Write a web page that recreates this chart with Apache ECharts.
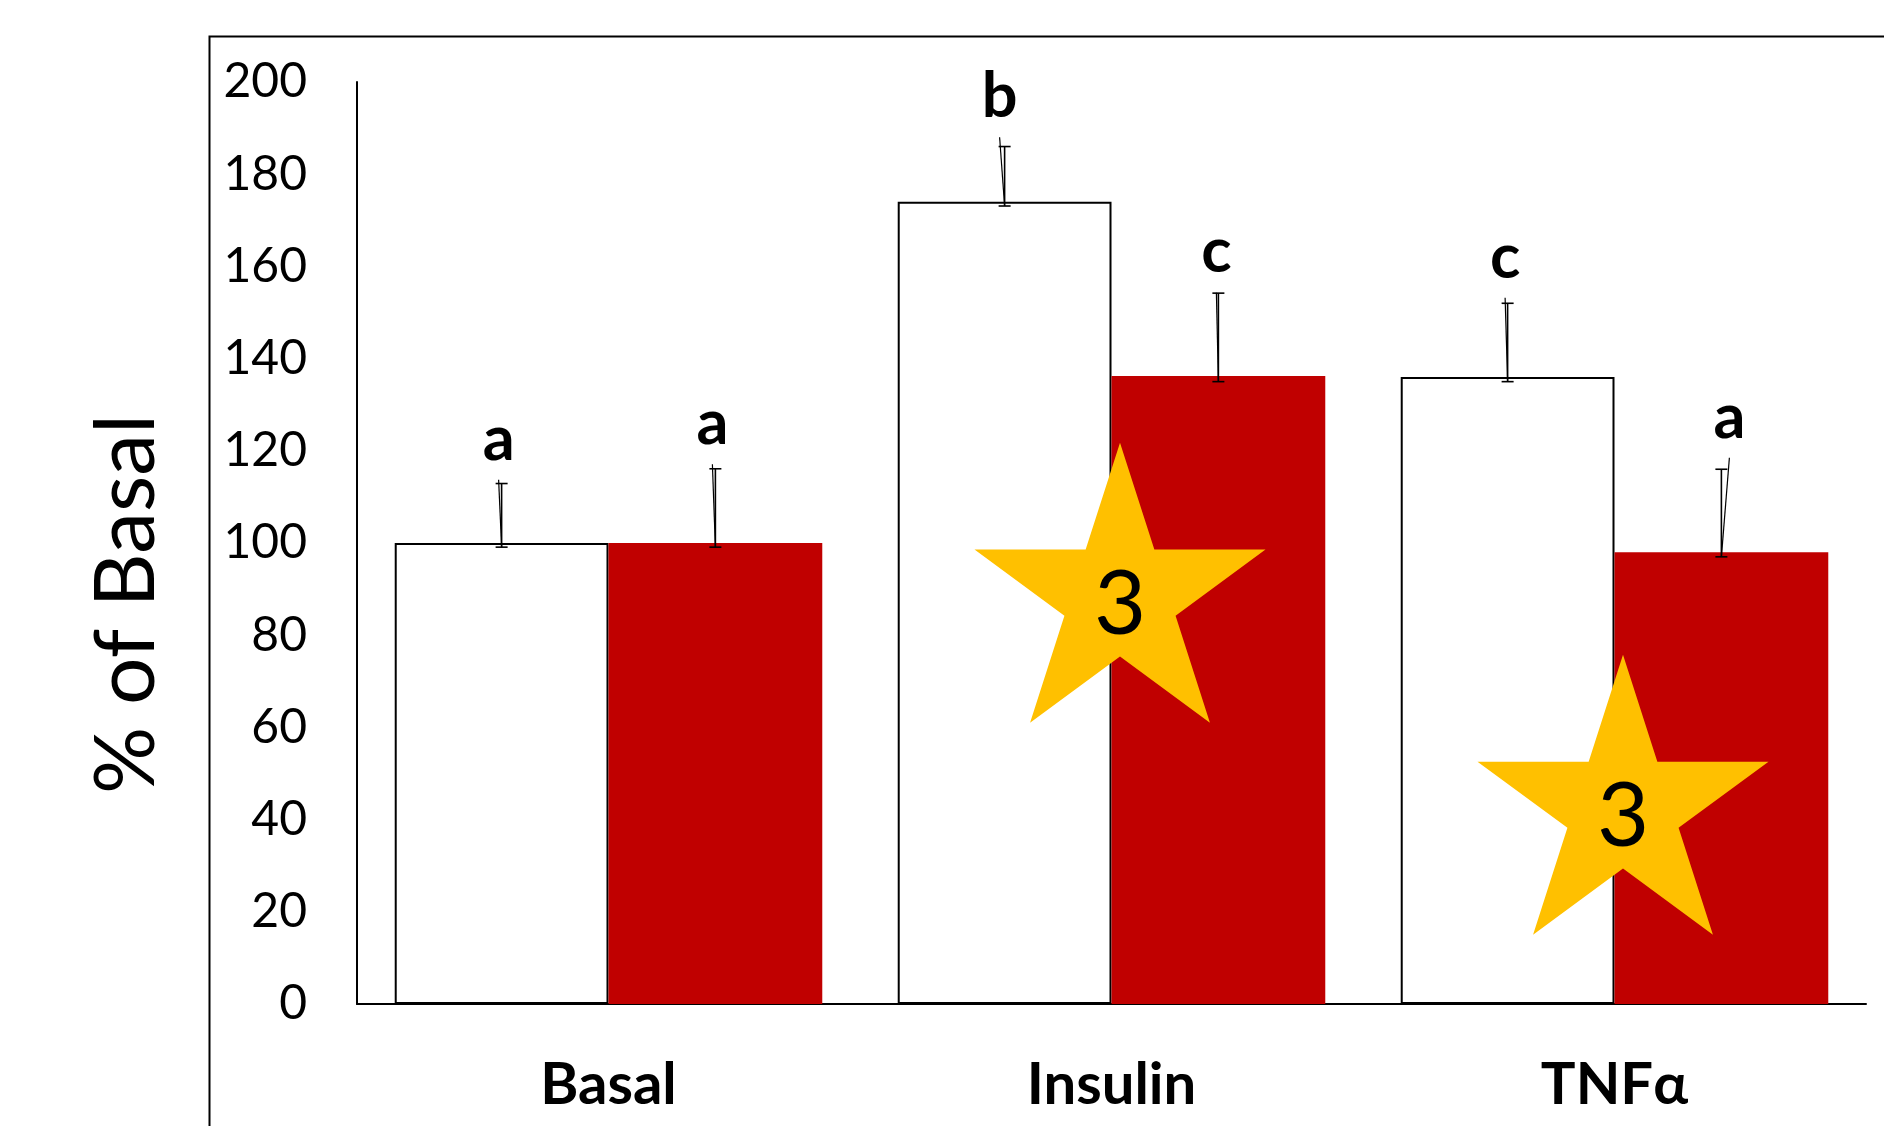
<!DOCTYPE html>
<html>
<head>
<meta charset="utf-8">
<script src="https://cdn.jsdelivr.net/npm/echarts@6/dist/echarts.min.js"></script>
<style>
html,body{margin:0;padding:0;background:#fff;}
#chart{width:1884px;height:1126px;}
</style>
</head>
<body>
<div id="chart"></div>
<script>
// ---- data ----
var categories = ['Basal', 'Insulin', 'TNFα'];
var yTicks = [0, 20, 40, 60, 80, 100, 120, 140, 160, 180, 200];
var ctrlValues = [100, 174, 136];
var trtValues = [100, 136.2, 98];
var ctrlErrLow = [99.1, 173.1, 135];
var ctrlErrHigh = [112.9, 186, 152];
var ctrlErrTip = [113.7, 188, 153.2];
var trtErrLow = [99.1, 135, 97];
var trtErrHigh = [116.1, 154.2, 116];
var trtErrTip = [117.1, 154.3, 118.5];
var ctrlLetters = ['a', 'b', 'c'];
var trtLetters = ['a', 'c', 'a'];
var starCategories = ['Insulin', 'TNFα'];
var starValues = [91.4, 45.4];
var starLabels = ['3', '3'];

// ---- style ----
var ctrlTipShift = [-3, -5, -2.5];
var trtTipShift = [-3, -2, 8];
var RED = '#C00000';
var GOLD = '#FFC000';
var FONT = 'Lato';
var starPath = 'path://M0,-100 L22.45,-30.9 L95.11,-30.9 L36.33,11.8 L58.78,80.9 L0,38.2 L-58.78,80.9 L-36.33,11.8 L-95.11,-30.9 L-22.45,-30.9 Z';

function errData(low, high, tip, letters, shift) {
  return categories.map(function (c, i) {
    return [i, low[i], high[i], tip[i], letters[i], shift[i]];
  });
}

function makeErrRender(side) {
  return function (params, api) {
    var i = api.value(0);
    var band = api.size([1, 0])[0];
    var off = side * band * 0.85 / 4;
    var pLow = api.coord([i, api.value(1)]);
    var pHigh = api.coord([i, api.value(2)]);
    var pTip = api.coord([i, api.value(3)]);
    var shift = api.value(5);
    var x = pLow[0] + off;
    var tx = x + shift;
    var cap = 6;
    var st = { stroke: '#000', lineWidth: 1.6 };
    return {
      type: 'group',
      children: [
        { type: 'line', shape: { x1: x, y1: pLow[1], x2: x, y2: pHigh[1] }, style: st },
        { type: 'line', shape: { x1: x - cap, y1: pLow[1], x2: x + cap, y2: pLow[1] }, style: st },
        { type: 'line', shape: { x1: x - cap, y1: pHigh[1], x2: x + cap, y2: pHigh[1] }, style: st },
        { type: 'line', shape: { x1: x, y1: pLow[1], x2: tx, y2: pTip[1] }, style: { stroke: '#000', lineWidth: 1.2 } },
        { type: 'text', x: tx, y: pTip[1] - 9,
          style: { text: api.value(4), fill: '#000', font: 'bold 63px ' + FONT, align: 'center', verticalAlign: 'bottom' } }
      ]
    };
  };
}

var chart = echarts.init(document.getElementById('chart'), null, { renderer: 'canvas' });
chart.setOption({
  backgroundColor: '#fff',
  animation: false,
  graphic: [{
    type: 'rect', left: 207, top: 34, z: 0, silent: true,
    shape: { x: 0, y: 0, width: 1800, height: 1200 },
    style: { fill: 'none', stroke: '#000', lineWidth: 2 }
  }],
  grid: { left: 357, top: 82, width: 1509, height: 922, containLabel: false },
  xAxis: {
    type: 'category',
    data: categories,
    axisLine: { show: true, lineStyle: { color: '#000', width: 2 } },
    axisTick: { show: false },
    axisLabel: { color: '#000', fontFamily: FONT, fontWeight: 'bold', fontSize: 58, margin: 52 },
    splitLine: { show: false }
  },
  yAxis: {
    type: 'value',
    min: 0, max: 200, interval: 20,
    name: '% of Basal',
    nameLocation: 'middle',
    nameRotate: 90,
    nameGap: 188,
    nameTextStyle: { color: '#000', fontFamily: FONT, fontSize: 84, padding: [0, 122, 0, 0] },
    axisLine: { show: true, lineStyle: { color: '#000', width: 2 } },
    axisTick: { show: false },
    splitLine: { show: false },
    axisLabel: {
      color: '#000', fontFamily: FONT, fontSize: 48, margin: 50,
      formatter: function (v) { return yTicks.indexOf(v) >= 0 ? String(v) : ''; }
    }
  },
  series: [
    {
      type: 'bar', name: 'control', data: ctrlValues,
      barGap: '0%', barCategoryGap: '15%',
      itemStyle: { color: '#fff', borderColor: '#000', borderWidth: 2 }, z: 2
    },
    {
      type: 'bar', name: 'treated', data: trtValues,
      barGap: '0%', barCategoryGap: '15%',
      itemStyle: { color: RED }, z: 3
    },
    {
      type: 'custom', name: 'ctrlErr', z: 5,
      data: errData(ctrlErrLow, ctrlErrHigh, ctrlErrTip, ctrlLetters, ctrlTipShift),
      renderItem: makeErrRender(-1)
    },
    {
      type: 'custom', name: 'trtErr', z: 5,
      data: errData(trtErrLow, trtErrHigh, trtErrTip, trtLetters, trtTipShift),
      renderItem: makeErrRender(1)
    },
    {
      type: 'scatter', name: 'stars', z: 10,
      data: starCategories.map(function (c, i) { return { value: [categories.indexOf(c), starValues[i]], label: { formatter: starLabels[i] } }; }),
      symbol: starPath,
      symbolSize: [291, 280],
      symbolOffset: [8.5, 0],
      itemStyle: { color: GOLD, opacity: 1 },
      label: { show: true, position: 'inside', offset: [0, 22], color: '#000', fontFamily: FONT, fontSize: 90 }
    }
  ]
});
</script>
</body>
</html>
